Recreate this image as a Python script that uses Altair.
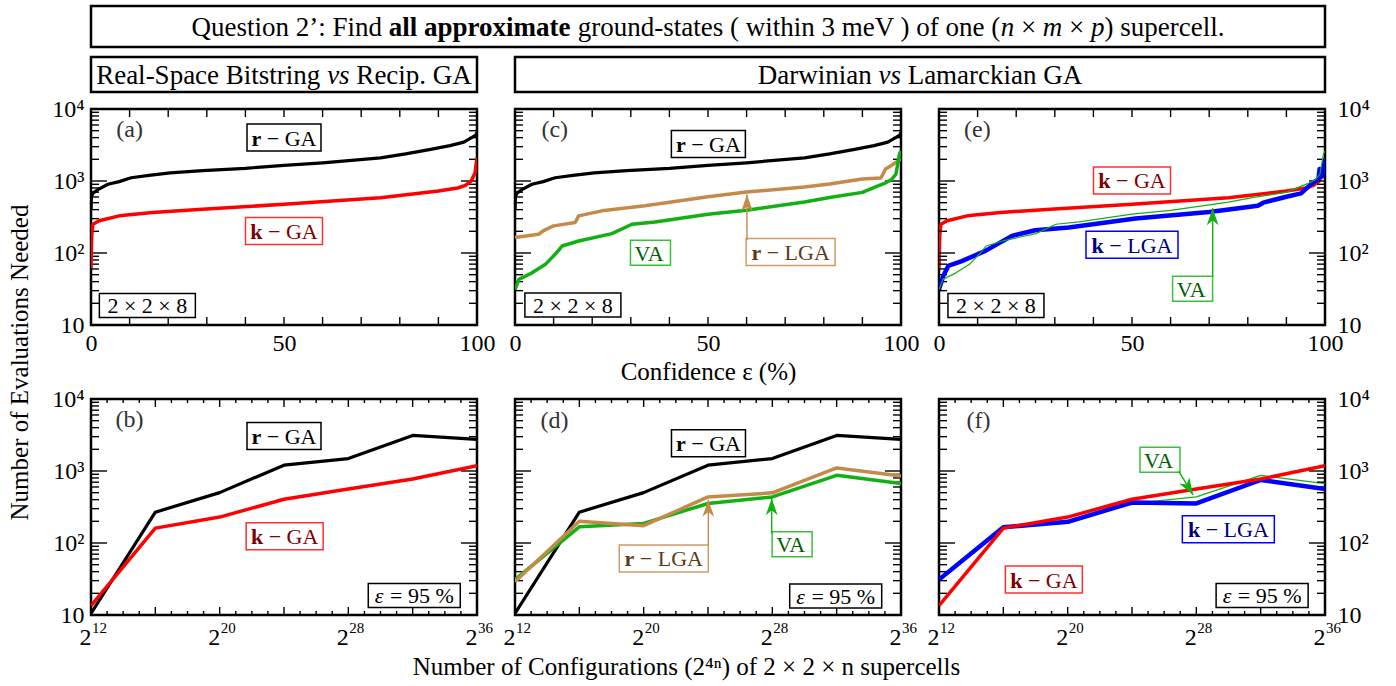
import math
import altair as alt
import pandas as pd

SERIF = "Liberation Serif"

# ---------------- data ----------------
# top row: evaluations needed vs confidence (%) for the 2x2x8 supercell
conf_r_ga = [0, 0.1, 0.5, 2, 4.4, 7.3, 10.4, 15, 20.5, 28.9, 40, 50, 60, 75, 81.5, 88, 93, 96.6, 99.6, 100]
evals_r_ga = [400, 600, 680, 772, 900, 980, 1110, 1200, 1300, 1393, 1500, 1650, 1790, 2100, 2377, 2750, 3100, 3466, 4300, 4700]

conf_k_ga = [0, 0.1, 0.2, 0.5, 2.1, 7.3, 15.9, 28.9, 50, 75, 90, 95, 97, 98.5, 99.5, 100]
evals_k_ga = [62, 107, 180, 251, 280, 328, 366, 406, 474, 585, 725, 800, 870, 1000, 1300, 2100]

conf_r_lga = [0, 6.1, 7.4, 10, 15.6, 16.5, 22.5, 33.7, 50, 60, 75, 81.5, 90, 94.8, 96, 97.4, 100]
evals_r_lga = [164, 182, 205, 238, 265, 328, 385, 453, 605, 701, 824, 907, 1066, 1100, 1470, 1630, 2020]

conf_va = [0, 1, 4.4, 7.8, 10.4, 12.2, 16.5, 25.1, 30.3, 36.3, 50, 60, 75, 81.5, 90, 93.1, 95.7, 97.4, 98.7, 99.6, 100]
evals_va = [31, 43, 53, 69, 96, 125, 147, 186, 251, 270, 346, 392, 510, 591, 695, 816, 928, 1032, 1250, 2377, 2600]

conf_k_lga = [0, 1.1, 2.4, 5.9, 12, 18.9, 24.9, 33.6, 50.9, 70, 75.6, 82.6, 84, 90, 93.8, 96.4, 98.3, 98.6, 99.2, 100]
evals_k_lga = [31, 48, 66, 77, 107, 173, 207, 226, 301, 371, 406, 453, 500, 605, 673, 907, 1066, 1470, 1150, 2020]

# bottom row: evaluations at 95 % confidence vs log2(number of configurations)
log2_configs = [12, 16, 20, 24, 28, 32, 36]
r_ga_95 = [10.5, 268, 501, 1205, 1489, 3124, 2750]
k_ga_95 = [13.5, 161, 229, 405, 563, 773, 1181]
r_lga_95 = [29, 201, 174, 437, 497, 1101, 853]
va_95 = [31, 168, 187, 354, 437, 871, 668]
k_lga_95 = [31, 165, 197, 365, 354, 750, 563]

# tick values / labels
y_tick_values = [10, 100, 1000, 10000]
y_tick_labels = ["10", "10²", "10³", "10⁴"]
conf_tick_values = [0, 50, 100]
conf_tick_labels = ["0", "50", "100"]
cfg_tick_values = [12, 20, 28, 36]
cfg_tick_base = ["2", "2", "2", "2"]
cfg_tick_exponents = ["12", "20", "28", "36"]
y_minor = [m * 10 ** k for k in (1, 2, 3) for m in range(2, 10)]
conf_major = list(range(0, 101, 10))
cfg_major = list(range(12, 37, 4))
cfg_minor = [i for i in range(13, 36) if i % 4]

# ---------------- style ----------------
W, H = 386, 216
GAP_X = 38
GAP_ROWS = 74
BLACK, RED, GREEN, BROWN, BLUE = "#000000", "#ff0000", "#12b012", "#c48a4a", "#0000ff"
T_RED, T_GREEN, T_BROWN, T_BLUE = "#7f0000", "#006000", "#5c3a1a", "#00007f"
B_RED, B_GREEN, B_BROWN = "#ff3030", "#3cbf3c", "#cf9c68"
LABEL_SIZE = 22

REG = {' ': 250, '(': 333, ')': 333, '-': 333, '.': 250, ':': 278, '’': 333, '%': 833,
       'A': 722, 'B': 667, 'C': 667, 'D': 722, 'E': 611, 'F': 556, 'G': 722, 'L': 611, 'M': 889,
       'N': 722, 'Q': 722, 'R': 667, 'S': 556, 'V': 722,
       'a': 444, 'b': 500, 'c': 444, 'd': 500, 'e': 444, 'f': 333, 'g': 500, 'h': 500, 'i': 278,
       'k': 500, 'l': 278, 'm': 778, 'n': 500, 'o': 500, 'p': 500, 'q': 500, 'r': 333, 's': 389,
       't': 278, 'u': 500, 'v': 500, 'w': 722, 'x': 500, 'y': 500,
       '×': 564, '−': 564, 'ε': 440, '=': 564}
BOLD = {'a': 500, 'l': 278, 'p': 556, 'r': 444, 'o': 500, 'x': 500, 'i': 278, 'm': 833,
        't': 333, 'e': 444, 'k': 556}
ITAL = {'n': 500, 'm': 722, 'p': 500, 'v': 444, 's': 389}


def tw(s, size, weight="normal", style="normal"):
    tot = 0
    for ch in s:
        if weight == "bold" and ch in BOLD:
            tot += BOLD[ch]
        elif style == "italic" and ch in ITAL:
            tot += ITAL[ch]
        else:
            tot += REG.get(ch, 500)
    return tot * size / 1000.0


def label_expr(values, labels):
    e = "''"
    for v, l in reversed(list(zip(values, labels))):
        e = f"datum.value == {v} ? '{l}' : {e}"
    return e


YS = alt.Scale(type="log", domain=[10, 10000], nice=False)


def run_offsets(parts, size):
    total = sum(tw(t, size, w, s) for t, w, s, c in parts)
    cum = -total / 2
    out = []
    for t, w, s, c in parts:
        lead = len(t) - len(t.lstrip())
        out.append((t.strip(), w, s, c, cum + tw(" " * lead, size)))
        cum += tw(t, size, w, s)
    return out


def header_layers(x0, y0, w, h, parts, size):
    dummy = pd.DataFrame({"d": [0]})
    out = [alt.Chart(dummy).mark_rect(fill="white", fillOpacity=0, stroke="black",
                                      strokeWidth=2.5).encode(
        x=alt.value(x0), x2=alt.value(x0 + w), y=alt.value(y0), y2=alt.value(y0 + h))]
    for t, wt, st, c, dx in run_offsets(parts, size):
        out.append(alt.Chart(dummy).mark_text(text=t, font=SERIF, fontSize=size, fontWeight=wt,
                                              fontStyle=st, color=c, align="left",
                                              baseline="middle").encode(
            x=alt.value(x0 + w / 2 + dx), y=alt.value(y0 + h / 2 + 1)))
    return out


def make_panel(top, series, annots, yside, xtitle=None, xtitle_x=None, ytitle=False, extra=()):
    xdom = [0, 100] if top else [12, 36]
    xs = alt.Scale(domain=xdom, nice=False, zero=False)

    common = dict(orient="bottom", ticks=False, domain=False, grid=False, labelFlush=False,
                  labelOverlap=False)
    if top:
        xkw = dict(values=conf_tick_values, labelExpr=label_expr(conf_tick_values, conf_tick_labels),
                   labelPadding=6, **common)
    else:
        xkw = dict(values=cfg_tick_values, labelExpr=label_expr(cfg_tick_values, cfg_tick_base),
                   labelPadding=10, labelOffset=-6, **common)
    if xtitle:
        xkw["title"] = xtitle
        xkw["titlePadding"] = 4 if top else 5
        if xtitle_x is not None:
            xkw["titleX"] = xtitle_x
    else:
        xkw["title"] = None
    xaxis = alt.Axis(**xkw)
    exp_axis = alt.Axis(values=cfg_tick_values, labelExpr=label_expr(cfg_tick_values, cfg_tick_exponents),
                        labelFontSize=15, labelPadding=5, labelOffset=8, title=None, **common)
    if yside is None:
        yaxis = None
    else:
        ykw = dict(orient=yside, values=y_tick_values,
                   labelExpr=label_expr(y_tick_values, y_tick_labels),
                   ticks=False, domain=False, grid=False, labelFlush=False, labelOverlap=False,
                   labelPadding=7 if yside == "left" else 12)
        if ytitle:
            ykw.update(title="Number of Evaluations Needed", titleY=H + 37, titleX=-72,
                       titleAngle=270, titleAlign="center", titleBaseline="middle")
        else:
            ykw["title"] = None
        yaxis = alt.Axis(**ykw)

    def X(ax=None):
        return alt.X("x:Q", scale=xs, axis=ax)

    def Y():
        return alt.Y("v:Q", scale=YS, axis=yaxis)

    def to_px(x, v):
        px = (x - xdom[0]) / (xdom[1] - xdom[0]) * W
        py = H * (1 - (math.log10(v) - 1) / 3)
        return px, py

    def line_layer(i):
        xv, yv, col, sw = series[i]
        df = pd.DataFrame({"x": xv, "v": yv, "i": list(range(len(xv)))})
        return alt.Chart(df).mark_line(color=col, strokeWidth=sw, clip=True,
                                       strokeJoin="round").encode(
            x=X(xaxis if i == 0 else None), y=Y(), order="i:Q")

    layers = [line_layer(0)]
    if not top:
        dfe = pd.DataFrame({"x": cfg_tick_values})
        layers.append(alt.Chart(dfe).mark_point(opacity=0).encode(x=X(exp_axis), y=alt.value(H)))
    # inward ticks on all four sides
    for vals, ln in ((y_tick_values, 16), (y_minor, 8)):
        df = pd.DataFrame({"v": vals})
        layers.append(alt.Chart(df).mark_rule(color="black", strokeWidth=1.4).encode(
            y=Y(), x=alt.value(0), x2=alt.value(ln)))
        layers.append(alt.Chart(df).mark_rule(color="black", strokeWidth=1.4).encode(
            y=Y(), x=alt.value(W), x2=alt.value(W - ln)))
    groups = [(conf_major, 8)] if top else [(cfg_major, 8), (cfg_minor, 4)]
    for vals, ln in groups:
        df = pd.DataFrame({"x": vals})
        layers.append(alt.Chart(df).mark_rule(color="black", strokeWidth=1.4).encode(
            x=X(), y=alt.value(H), y2=alt.value(H - ln)))
        layers.append(alt.Chart(df).mark_rule(color="black", strokeWidth=1.4).encode(
            x=X(), y=alt.value(0), y2=alt.value(ln)))

    for i in range(1, len(series)):
        layers.append(line_layer(i))

    for a in annots:
        if a["kind"] == "letter":
            df = pd.DataFrame({"x": [a["x"]], "v": [a["v"]]})
            layers.append(alt.Chart(df).mark_text(text=a["text"], font=SERIF, fontSize=24,
                                                  color="#333333", baseline="middle").encode(
                x=X(), y=Y()))
        elif a["kind"] == "box":
            df = pd.DataFrame({"x": [a["x"]], "v": [a["v"]]})
            w, h = a["w"], a["h"]
            r = h / w
            path = f"M-1,{-r:.4f}L1,{-r:.4f}L1,{r:.4f}L-1,{r:.4f}Z"
            layers.append(alt.Chart(df).mark_point(shape=path, size=w * w, filled=True,
                                                   fill="white", stroke=a["stroke"],
                                                   strokeWidth=1.5, opacity=1).encode(
                x=X(), y=Y()))
            for t, wt, st, c, dx in run_offsets(a["parts"], LABEL_SIZE):
                layers.append(alt.Chart(df).mark_text(text=t, font=SERIF, fontSize=LABEL_SIZE,
                                                      fontWeight=wt, fontStyle=st, color=c,
                                                      align="left", baseline="middle",
                                                      dx=dx, dy=1).encode(x=X(), y=Y()))
        elif a["kind"] == "arrow":
            dfa = pd.DataFrame({"x": [a["x1"]], "v": [a["v1"]], "x2": [a["x2"]], "v2": [a["v2"]]})
            layers.append(alt.Chart(dfa).mark_rule(color=a["color"], strokeWidth=1.4).encode(
                x=X(), y=Y(), x2="x2:Q", y2="v2:Q"))
            p1 = to_px(a["x1"], a["v1"])
            p2 = to_px(a["x2"], a["v2"])
            ang = math.degrees(math.atan2(p2[0] - p1[0], -(p2[1] - p1[1]))) % 360
            dft = pd.DataFrame({"x": [a["x2"]], "v": [a["v2"]]})
            layers.append(alt.Chart(dft).mark_point(
                shape="M0,0L0.55,1.6L0,1.15L-0.55,1.6Z", size=452, filled=True,
                color=a["color"], opacity=1, angle=round(ang, 1)).encode(x=X(), y=Y()))

    layers.extend(extra)
    return alt.layer(*layers).resolve_axis(x="independent").properties(width=W, height=H)


def box(x, v, w, h, parts, stroke):
    return dict(kind="box", x=x, v=v, w=w, h=h, parts=parts, stroke=stroke)


def rga(x, v):
    return box(x, v, 74, 27, [("r", "bold", "normal", BLACK), (" − GA", "normal", "normal", BLACK)], BLACK)


def kga(x, v):
    return box(x, v, 77, 27, [("k", "bold", "normal", T_RED), (" − GA", "normal", "normal", T_RED)], B_RED)


def rlga(x, v):
    return box(x, v, 89, 27, [("r", "bold", "normal", T_BROWN), (" − LGA", "normal", "normal", T_BROWN)], B_BROWN)


def klga(x, v):
    return box(x, v, 92, 27, [("k", "bold", "normal", T_BLUE), (" − LGA", "normal", "normal", T_BLUE)], BLUE)


def va(x, v):
    return box(x, v, 40, 25, [("VA", "normal", "normal", T_GREEN)], B_GREEN)


def cell(x, v):
    return box(x, v, 96, 24, [("2 × 2 × 8", "normal", "normal", BLACK)], BLACK)


def eps(x, v):
    return box(x, v, 92, 24, [("ε", "normal", "italic", BLACK), (" = 95 %", "normal", "normal", BLACK)], BLACK)


def letter(x, v, t):
    return dict(kind="letter", x=x, v=v, text=t)


def arrow(x1, v1, x2, v2, color):
    return dict(kind="arrow", x1=x1, v1=v1, x2=x2, v2=v2, color=color)


title_parts = [("Question 2’: Find ", "normal", "normal", BLACK),
               ("all approximate", "bold", "normal", BLACK),
               (" ground-states ( within 3 meV ) of one (", "normal", "normal", BLACK),
               ("n", "normal", "italic", BLACK), (" × ", "normal", "normal", BLACK),
               ("m", "normal", "italic", BLACK), (" × ", "normal", "normal", BLACK),
               ("p", "normal", "italic", BLACK), (") supercell.", "normal", "normal", BLACK)]
sub_a_parts = [("Real-Space Bitstring ", "normal", "normal", BLACK), ("vs", "normal", "italic", BLACK),
               (" Recip. GA", "normal", "normal", BLACK)]
sub_b_parts = [("Darwinian ", "normal", "normal", BLACK), ("vs", "normal", "italic", BLACK),
               (" Lamarckian GA", "normal", "normal", BLACK)]

FULL_W = 3 * W + 2 * GAP_X
head_a = header_layers(0, -103, FULL_W, 41, title_parts, 27) + \
    header_layers(0, -52, W, 35, sub_a_parts, 27)
head_c = header_layers(0, -52, 2 * W + GAP_X, 35, sub_b_parts, 27)

pa = make_panel(True,
                [(conf_r_ga, evals_r_ga, BLACK, 3.2), (conf_k_ga, evals_k_ga, RED, 3.5)],
                [letter(10, 5176, "(a)"), rga(50, 4010), kga(50, 202), cell(14.6, 18.7)],
                "left", ytitle=True, extra=head_a)
pc = make_panel(True,
                [(conf_r_ga, evals_r_ga, BLACK, 3.2), (conf_r_lga, evals_r_lga, BROWN, 3.5),
                 (conf_va, evals_va, GREEN, 3.5)],
                [letter(10.3, 5176, "(c)"), rga(50.1, 3276), va(35.1, 101), rlga(71.4, 103),
                 arrow(60.1, 150, 60.1, 650, BROWN), cell(15, 18.9)],
                None, xtitle="Confidence ε (%)", extra=head_c)
pe = make_panel(True,
                [(conf_k_ga, evals_k_ga, RED, 3.5), (conf_k_lga, evals_k_lga, BLUE, 4.5),
                 (conf_va, evals_va, GREEN, 1.2)],
                [letter(9.95, 5176, "(e)"), kga(50, 1018), klga(50, 130), va(65.7, 31.8),
                 arrow(70.9, 46.7, 70.9, 420, GREEN), cell(14.75, 18.7)],
                "right")
pb = make_panel(False,
                [(log2_configs, r_ga_95, BLACK, 3.2), (log2_configs, k_ga_95, RED, 3.5)],
                [letter(14.4, 5028, "(b)"), rga(24, 3061), kga(24.04, 124), eps(32.1, 18.7)],
                "left")
pd_ = make_panel(False,
                 [(log2_configs, r_ga_95, BLACK, 3.2), (log2_configs, va_95, GREEN, 3.5),
                  (log2_configs, r_lga_95, BROWN, 3.5)],
                 [letter(14.45, 5000, "(d)"), rga(24.03, 2420), rlga(21.25, 61),
                  arrow(24.02, 93, 24.02, 400, BROWN), va(29.23, 96),
                  arrow(27.96, 135, 27.96, 420, GREEN), eps(31.94, 18.4)],
                 None, xtitle="Number of Configurations (2⁴ⁿ) of 2 × 2 × n supercells",
                 xtitle_x=171)
pf = make_panel(False,
                [(log2_configs, va_95, GREEN, 1.2), (log2_configs, k_lga_95, BLUE, 4.5),
                 (log2_configs, k_ga_95, RED, 3.5)],
                [letter(14.45, 4920, "(f)"), va(25.74, 1436), arrow(26.9, 998, 27.8, 466, GREEN),
                 klga(29.99, 155), kga(18.52, 31), eps(32.09, 18.7)],
                "right")

chart = alt.concat(pa, pc, pe, pb, pd_, pf, columns=3,
                   spacing={"row": GAP_ROWS, "column": GAP_X}, bounds="flush").properties(
    padding={"left": 5, "top": 3, "right": 5, "bottom": 2}
).configure_view(stroke="black", strokeWidth=2.5).configure_axis(
    labelFont=SERIF, labelFontSize=24, labelColor="black",
    titleFont=SERIF, titleFontSize=25, titleFontWeight="normal", titleColor="black")

chart.save("out.html", embed_options={"renderer": "svg", "actions": False})
